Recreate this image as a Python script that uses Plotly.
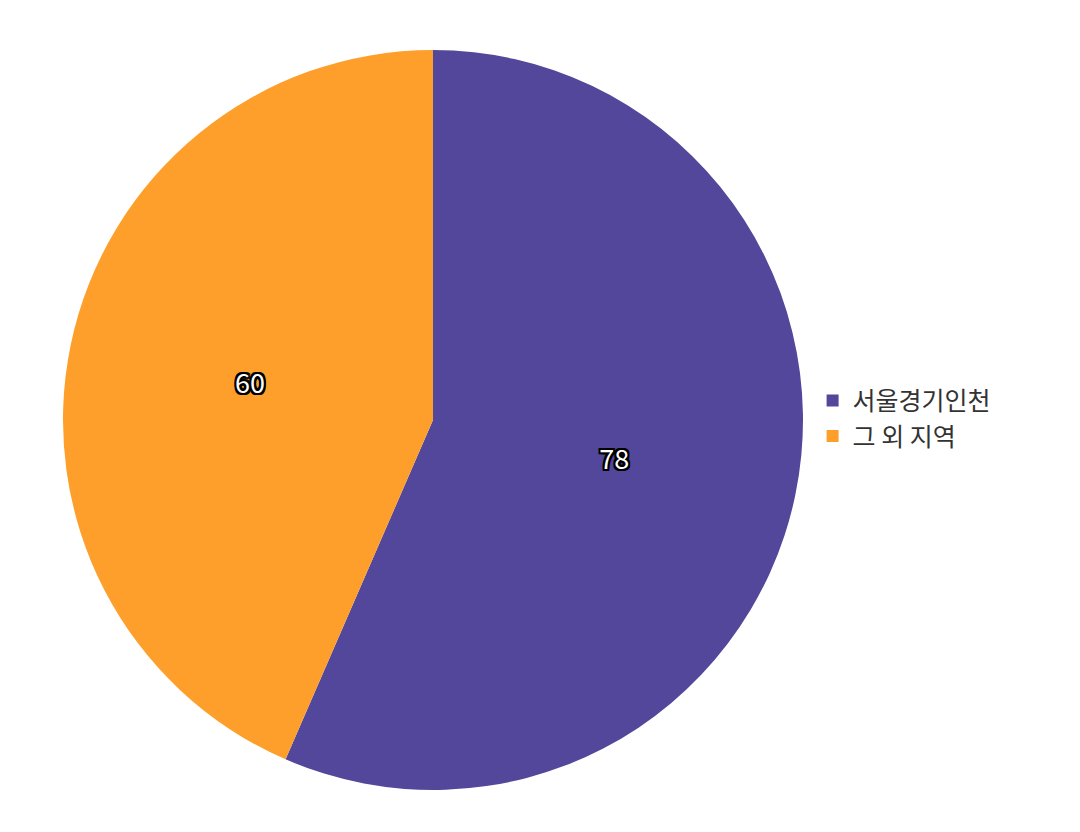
import plotly.graph_objects as go

# data
regions = ["서울경기인천", "그 외 지역"]
counts = [78, 60]
colors = ["#52479A", "#FD9F2A"]

fig = go.Figure()

fig.add_trace(go.Pie(
    labels=regions,
    values=counts,
    sort=False,
    direction="clockwise",
    rotation=0,
    marker=dict(colors=colors, line=dict(width=0)),
    textinfo="value",
    textposition="inside",
    insidetextorientation="horizontal",
    textfont=dict(size=27, color="white", family="Noto Sans CJK KR",
                  shadow="-2px -2px 0 #000, 2px -2px 0 #000, -2px 2px 0 #000, 2px 2px 0 #000, 0 2px 0 #000, 0 -2px 0 #000, 2px 0 0 #000, -2px 0 0 #000"),
    domain=dict(x=[55 / 1080, 795 / 1080], y=[1 - 782 / 832, 1 - 42 / 832]),
    hoverinfo="label+value",
))

fig.update_layout(
    width=1080,
    height=832,
    margin=dict(l=0, r=0, t=0, b=0),
    paper_bgcolor="white",
    font=dict(family="Noto Sans CJK KR", size=25, color="#333333"),
    legend=dict(x=0.745, y=0.507, xanchor="left", yanchor="middle",
                font=dict(size=25, color="#333333")),
)

fig.write_html("out.html")
